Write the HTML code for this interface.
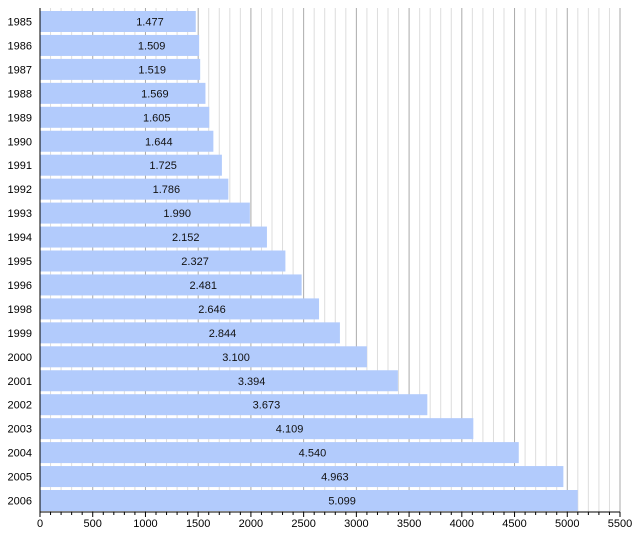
<!DOCTYPE html>
<html><head><meta charset="utf-8"><style>
body{margin:0;background:#fff}
svg{display:block;font-family:"Liberation Sans",sans-serif}
</style></head><body>
<svg width="640" height="535" xmlns="http://www.w3.org/2000/svg">
<g id="g"></g>
</svg>
<script>
(function(){
var years=[1985,1986,1987,1988,1989,1990,1991,1992,1993,1994,1995,1996,1998,1999,2000,2001,2002,2003,2004,2005,2006];
var vals=[1477,1509,1519,1569,1605,1644,1725,1786,1990,2152,2327,2481,2646,2844,3100,3394,3673,4109,4540,4963,5099];
var x0=40,k=580/5500,ty=11,pitch=23.95,bh=21,axisY=512;
var s='';
for(var v=100;v<=5500;v+=100){var x=x0+v*k;s+='<line x1="'+x+'" y1="8" x2="'+x+'" y2="'+axisY+'" stroke="'+(v%500?'#ddd':'#aaa')+'" stroke-width="1"/>';}
years.forEach(function(y,i){var t=ty+i*pitch,w=vals[i]*k;var lx=51.5+0.503*(x0+w);
s+='<rect x="'+x0+'" y="'+t+'" width="'+w+'" height="'+bh+'" fill="#b2cbfc"/>';
s+='<text x="32" y="'+(t+bh/2+4)+'" font-size="11" text-anchor="end" fill="#000">'+y+'</text>';
s+='<text x="'+lx+'" y="'+(t+bh/2+4)+'" font-size="11" text-anchor="middle" fill="#111">'+(vals[i]/1000).toFixed(3)+'</text>';});
s+='<line x1="'+x0+'" y1="8" x2="'+x0+'" y2="'+axisY+'" stroke="#000"/>';
s+='<line x1="'+x0+'" y1="'+axisY+'" x2="'+(x0+580)+'" y2="'+axisY+'" stroke="#000"/>';
for(var v2=0;v2<=5500;v2+=100){var xx=x0+v2*k;var big=v2%500==0;s+='<line x1="'+xx+'" y1="'+axisY+'" x2="'+xx+'" y2="'+(axisY+(big?5:3))+'" stroke="#000"/>';
if(big)s+='<text x="'+xx+'" y="'+(axisY+15)+'" font-size="11" text-anchor="middle">'+v2+'</text>';}
document.getElementById('g').innerHTML=s;
})();
</script>
</body></html>
